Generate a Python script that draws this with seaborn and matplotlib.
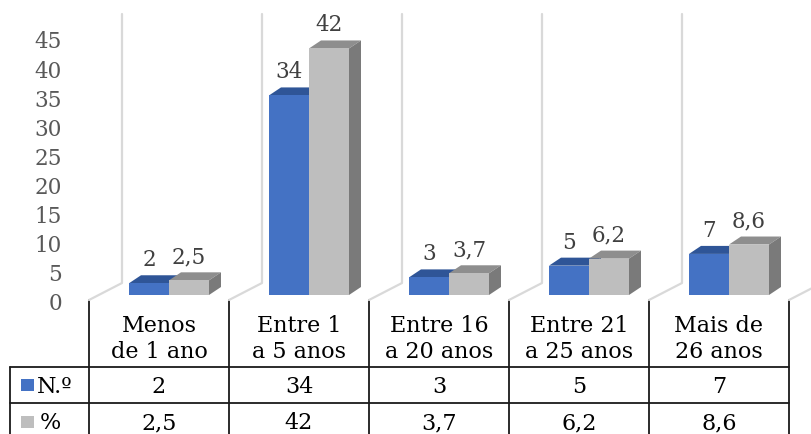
import matplotlib
matplotlib.use("Agg")
import matplotlib.pyplot as plt
from matplotlib.patches import Polygon, Rectangle
import seaborn as sns
import pandas as pd

# ---- data ----
categories = ["Menos\nde 1 ano", "Entre 1\na 5 anos", "Entre 16\na 20 anos",
              "Entre 21\na 25 anos", "Mais de\n26 anos"]
series_names = ["N.º", "%"]
counts = [2, 34, 3, 5, 7]
percents = [2.5, 42, 3.7, 6.2, 8.6]
yticks = [0, 5, 10, 15, 20, 25, 30, 35, 40, 45]

# ---- style ----
sns.set_theme(style="white")
plt.rcParams["font.family"] = ["DejaVu Serif", "DejaVu Sans"]
FS = 15.5
FS_TAB = 16
BLUE, BLUE_TOP = "#4472C4", "#2F5597"
GREY, GREY_TOP, GREY_SIDE = "#BEBEBE", "#8E8E8E", "#7A7A7A"
GRID = "#D9D9D9"
LINE = "#1A1A1A"


def fmt(v):
    return f"{v:g}".replace(".", ",")


W, H = 812, 435
fig = plt.figure(figsize=(W / 100, H / 100), dpi=100)

# plot area in pixel terms
left_px, right_px, top_px, bot_px = 89, 789, 15, 301
zero_px = 296
px_per_unit = 5.87
col_px = (right_px - left_px) / len(categories)

ax = fig.add_axes([left_px / W, (H - bot_px) / H,
                   (right_px - left_px) / W, (bot_px - top_px) / H])
ymin = -(bot_px - zero_px) / px_per_unit
ymax = (zero_px - top_px) / px_per_unit

df = pd.DataFrame({
    "faixa": categories * 2,
    "serie": [series_names[0]] * len(counts) + [series_names[1]] * len(percents),
    "valor": counts + percents,
})
sns.barplot(data=df, x="faixa", y="valor", hue="serie", palette=[BLUE, GREY],
            width=2 * 40 / col_px, saturation=1, errorbar=None, legend=False,
            ax=ax, zorder=3, linewidth=0)

ax.set_xlim(-0.5, len(categories) - 0.5)
ax.set_ylim(ymin, ymax)
ax.set_xticks([])
ax.set_yticks([])
ax.set_xlabel("")
ax.set_ylabel("")
for s in ax.spines.values():
    s.set_visible(False)
ax.patch.set_alpha(0)

# back wall / floor gridlines at category boundaries
depth_x = 33 / col_px
wall_y = (zero_px - 284) / px_per_unit
for k in range(len(categories) + 1):
    xb = k - 0.5
    ax.plot([xb, xb + depth_x, xb + depth_x], [ymin, wall_y, ymax],
            color=GRID, lw=1.6, clip_on=False, zorder=1)

# 3D look: shift bars, add top and side faces, value labels
shift = 10 / col_px
dx = 12 / col_px
dy = 8 / px_per_unit
bars = [p for p in ax.patches if isinstance(p, Rectangle)]
tops = {BLUE: (BLUE_TOP, BLUE_TOP), GREY: (GREY_TOP, GREY_SIDE)}
values = counts + percents
for i, p in enumerate(bars):
    p.set_x(p.get_x() + shift)
    x0, w, h = p.get_x(), p.get_width(), p.get_height()
    x1 = x0 + w
    face = BLUE if i < len(counts) else GREY
    top_c, side_c = tops[face]
    ax.add_patch(Polygon([(x0, h), (x1, h), (x1 + dx, h + dy), (x0 + dx, h + dy)],
                         closed=True, fc=top_c, ec="none", zorder=2))
    ax.add_patch(Polygon([(x1, 0), (x1 + dx, dy), (x1 + dx, h + dy), (x1, h)],
                         closed=True, fc=side_c, ec="none", zorder=2))
    ax.text(x0 + w / 2, h + 24 / px_per_unit, fmt(values[i]),
            ha="center", va="center", fontsize=FS, color="#404040", zorder=4)

# value axis labels
lab = fig.add_axes([62 / W, (H - 302) / H, 0.0001, 262 / H])
lab.set_ylim(0, 45)
lab.set_yticks(yticks)
lab.set_yticklabels([str(t) for t in yticks])
lab.set_xticks([])
lab.tick_params(axis="y", length=0, pad=0, labelsize=FS, labelcolor="#595959")
for s in lab.spines.values():
    s.set_visible(False)
lab.patch.set_alpha(0)

# data table
tb = fig.add_axes([0, 0, 1, 1], zorder=-1)
tb.set_xlim(0, W)
tb.set_ylim(H, 0)
tb.axis("off")
row1, row2, tab_left, tab_bottom = 368, 404, 10, 440
for k in range(len(categories) + 1):
    x = left_px + k * col_px
    tb.plot([x, x], [bot_px, tab_bottom], color=LINE, lw=1.3)
tb.plot([tab_left, tab_left], [row1, tab_bottom], color=LINE, lw=1.3)
for y in (row1, row2):
    tb.plot([tab_left, right_px], [y, y], color=LINE, lw=1.3)

for k, cat in enumerate(categories):
    cx = left_px + (k + 0.5) * col_px
    tb.text(cx, 339, cat, ha="center", va="center", fontsize=FS_TAB,
            linespacing=1.2, multialignment="center", color="black")
    tb.text(cx, 387, fmt(counts[k]), ha="center", va="center", fontsize=FS_TAB, color="black")
    tb.text(cx, 423, fmt(percents[k]), ha="center", va="center", fontsize=FS_TAB, color="black")

tb.add_patch(Rectangle((21, 380), 13, 12, fc=BLUE, ec="none"))
tb.add_patch(Rectangle((21, 417), 13, 12, fc=GREY, ec="none"))
tb.text(37, 387, series_names[0], ha="left", va="center", fontsize=FS_TAB, color="black")
tb.text(40, 423, series_names[1], ha="left", va="center", fontsize=FS_TAB, color="black")

fig.savefig("out.png", dpi=100)
